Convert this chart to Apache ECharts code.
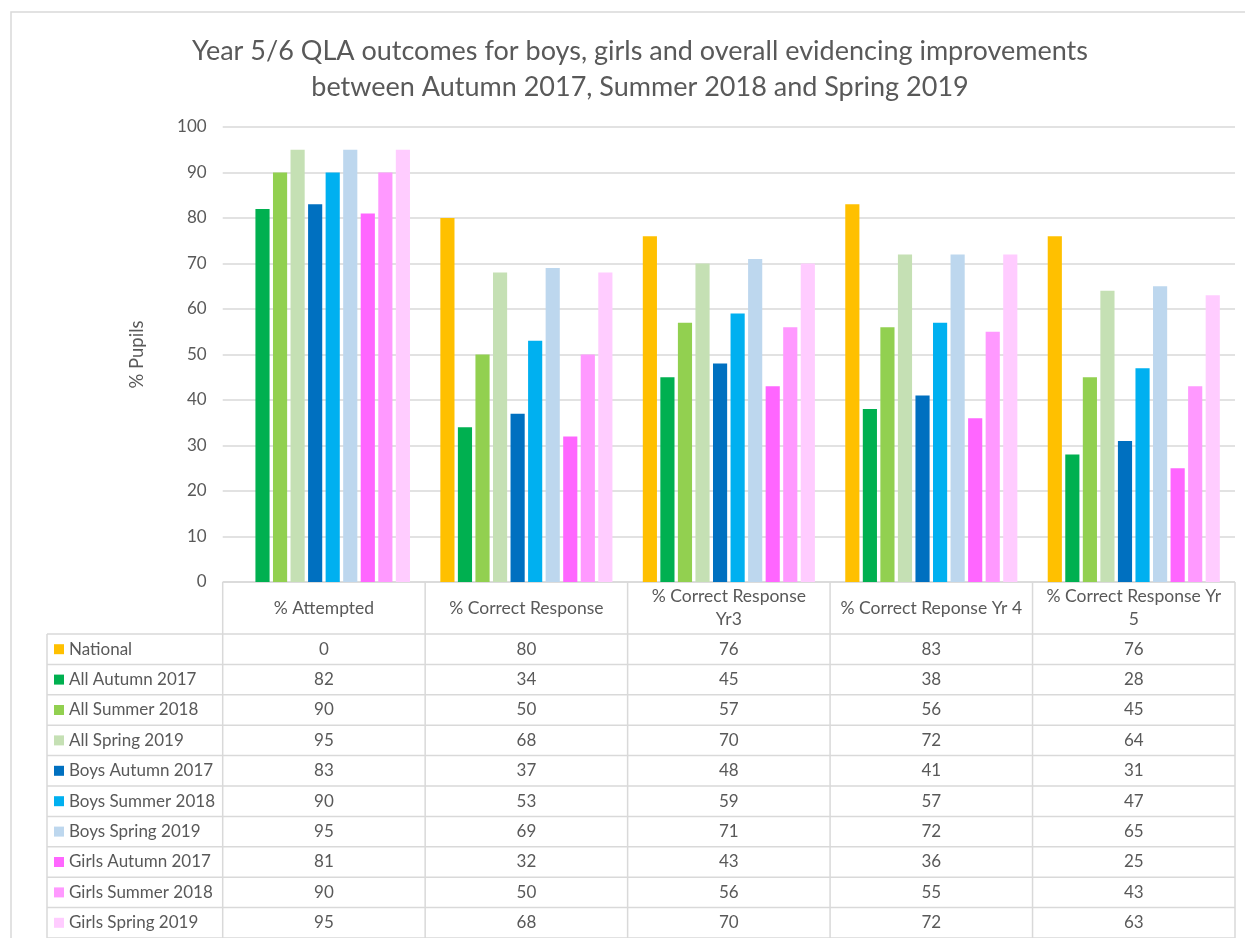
<!DOCTYPE html>
<html>
<head>
<meta charset="utf-8">
<script src="https://cdn.jsdelivr.net/npm/echarts@6/dist/echarts.min.js"></script>
<style>
  html, body { margin: 0; padding: 0; background: #fff; }
  #chart { width: 1245px; height: 938px; }
</style>
</head>
<body>
<div id="chart"></div>
<script>
// Question areas (columns of the data table)
const categories = [
  '% Attempted',
  '% Correct Response',
  '% Correct Response Yr3',
  '% Correct Reponse Yr 4',
  '% Correct Response Yr 5'
];
// Header text as wrapped in the table
const headerLabels = [
  '% Attempted',
  '% Correct Response',
  '% Correct Response\nYr3',
  '% Correct Reponse Yr 4',
  '% Correct Response Yr\n5'
];

const seriesNames = [
  'National',
  'All Autumn 2017',
  'All Summer 2018',
  'All Spring 2019',
  'Boys Autumn 2017',
  'Boys Summer 2018',
  'Boys Spring 2019',
  'Girls Autumn 2017',
  'Girls Summer 2018',
  'Girls Spring 2019'
];

const national        = [0, 80, 76, 83, 76];
const allAutumn2017   = [82, 34, 45, 38, 28];
const allSummer2018   = [90, 50, 57, 56, 45];
const allSpring2019   = [95, 68, 70, 72, 64];
const boysAutumn2017  = [83, 37, 48, 41, 31];
const boysSummer2018  = [90, 53, 59, 57, 47];
const boysSpring2019  = [95, 69, 71, 72, 65];
const girlsAutumn2017 = [81, 32, 43, 36, 25];
const girlsSummer2018 = [90, 50, 56, 55, 43];
const girlsSpring2019 = [95, 68, 70, 72, 63];

const seriesValues = [
  national, allAutumn2017, allSummer2018, allSpring2019,
  boysAutumn2017, boysSummer2018, boysSpring2019,
  girlsAutumn2017, girlsSummer2018, girlsSpring2019
];

const seriesColors = [
  '#FFC000', '#00B050', '#92D050', '#C5E0B4',
  '#0070C0', '#00B0F0', '#BDD7EE',
  '#FF66FF', '#FF99FF', '#FFCCFF'
];

const yTicks = { min: 0, max: 100, interval: 10 };

// Layout
const W = 1245, H = 938;
const plotLeft = 222.7, plotRight = 1235, plotTop = 127, plotBottom = 582;
const headerBottom = 634, rowH = 30.4, tableLeft = 47;
const lineColor = '#D9D9D9';
const textColor = '#595959';
const font = 'Lato, "Open Sans", sans-serif';

const colW = (plotRight - plotLeft) / categories.length;
const graphics = [];

// Chart area frame
graphics.push({
  type: 'rect', silent: true,
  shape: { x: 11, y: 12, width: W + 20, height: H + 20 },
  style: { fill: 'none', stroke: lineColor, lineWidth: 1.5 }
});

function hLine(x1, x2, y) {
  graphics.push({ type: 'line', silent: true, shape: { x1, y1: y, x2, y2: y },
    style: { stroke: lineColor, lineWidth: 1.5 } });
}
function vLine(x, y1, y2) {
  graphics.push({ type: 'line', silent: true, shape: { x1: x, y1, x2: x, y2 },
    style: { stroke: lineColor, lineWidth: 1.5 } });
}

const tableBottom = headerBottom + rowH * seriesNames.length;
// Header row
hLine(plotLeft, plotRight, plotBottom);
for (let c = 0; c <= categories.length; c++) {
  vLine(plotLeft + c * colW, plotBottom, tableBottom + 2);
}
vLine(tableLeft, headerBottom, tableBottom + 2);
for (let r = 0; r <= seriesNames.length; r++) {
  hLine(tableLeft, plotRight, headerBottom + r * rowH);
}
headerLabels.forEach((lab, c) => {
  graphics.push({
    type: 'text', silent: true,
    x: plotLeft + (c + 0.5) * colW, y: (plotBottom + headerBottom) / 2,
    style: { text: lab, font: '17.5px ' + font, fill: textColor,
      align: 'center', verticalAlign: 'middle', lineHeight: 23 }
  });
});
// Data rows
seriesNames.forEach((name, r) => {
  const cy = headerBottom + (r + 0.5) * rowH;
  graphics.push({
    type: 'rect', silent: true,
    shape: { x: 54, y: cy - 5, width: 10, height: 10 },
    style: { fill: seriesColors[r] }
  });
  graphics.push({
    type: 'text', silent: true, x: 69, y: cy,
    style: { text: name, font: '17px ' + font, fill: textColor,
      align: 'left', verticalAlign: 'middle' }
  });
  seriesValues[r].forEach((v, c) => {
    graphics.push({
      type: 'text', silent: true, x: plotLeft + (c + 0.5) * colW, y: cy,
      style: { text: String(v), font: '17px ' + font, fill: textColor,
        align: 'center', verticalAlign: 'middle' }
    });
  });
});

const chart = echarts.init(document.getElementById('chart'), null, { renderer: 'canvas' });
chart.setOption({
  backgroundColor: '#fff',
  animation: false,
  title: {
    text: 'Year 5/6 QLA outcomes for boys, girls and overall evidencing improvements\nbetween Autumn 2017, Summer 2018 and Spring 2019',
    left: 635, top: 28, textAlign: 'center',
    textStyle: { fontFamily: font, fontSize: 27, fontWeight: 'normal', color: textColor, lineHeight: 36 }
  },
  grid: {
    left: plotLeft, right: W - plotRight, top: plotTop, bottom: H - plotBottom,
    containLabel: false
  },
  xAxis: {
    type: 'category', data: categories,
    axisLine: { show: false }, axisTick: { show: false }, axisLabel: { show: false },
    splitLine: { show: false }
  },
  yAxis: {
    type: 'value', min: yTicks.min, max: yTicks.max, interval: yTicks.interval,
    name: '% Pupils', nameLocation: 'middle', nameGap: 76, nameRotate: 90,
    nameTextStyle: { fontFamily: font, fontSize: 18.5, color: textColor },
    axisLine: { show: false }, axisTick: { show: false },
    axisLabel: { fontFamily: font, fontSize: 17, color: textColor, margin: 16 },
    splitLine: { lineStyle: { color: lineColor, width: 1.5 } }
  },
  series: seriesNames.map((name, i) => ({
    type: 'bar', name, data: seriesValues[i],
    itemStyle: { color: seriesColors[i] },
    barGap: '24%', barCategoryGap: '15%'
  })),
  graphic: graphics
});
</script>
</body>
</html>
